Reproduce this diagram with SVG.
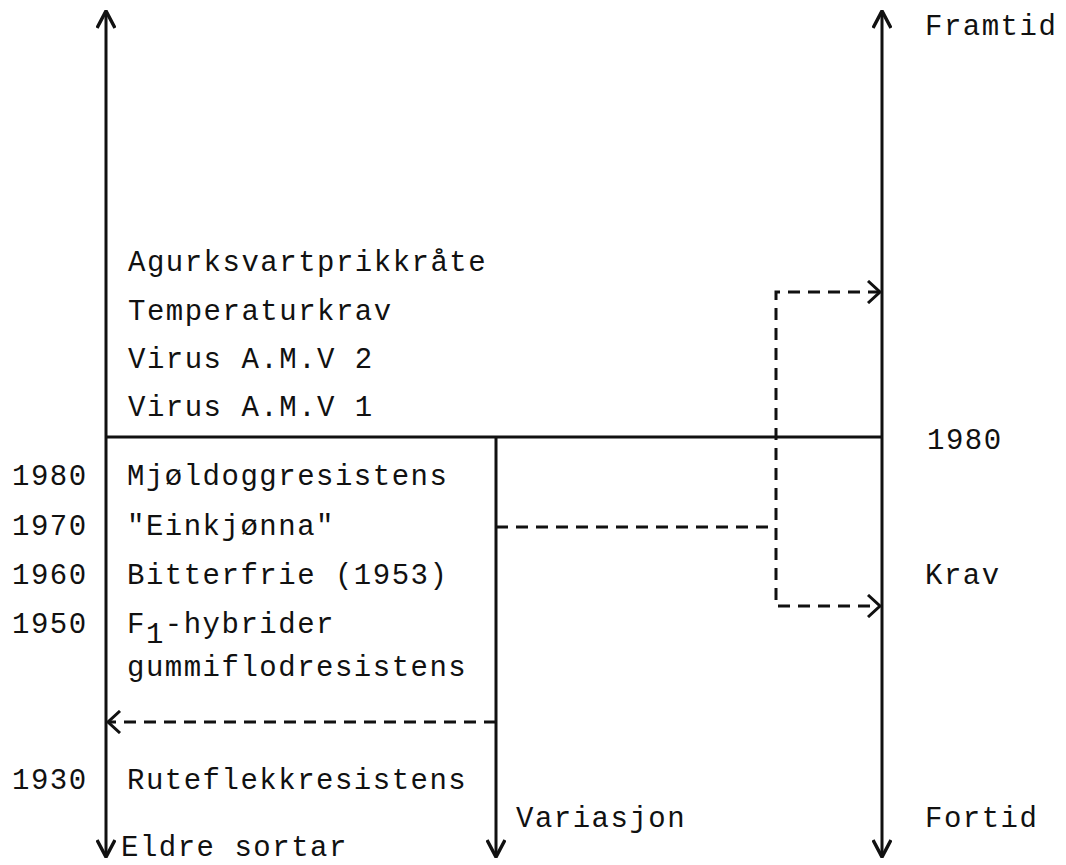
<svg xmlns="http://www.w3.org/2000/svg" width="1066" height="865" viewBox="0 0 1066 865">
<style>
text{font-family:"Liberation Mono","Courier New",monospace;font-size:29px;letter-spacing:1.5px;fill:#111}
.solid{stroke:#111;stroke-width:3;fill:none}
.dash{stroke:#111;stroke-width:3;fill:none;stroke-dasharray:12 8}
</style>
<defs>
<marker id="arr" viewBox="0 0 20 20" refX="19" refY="10" markerWidth="20" markerHeight="20" markerUnits="userSpaceOnUse" orient="auto-start-reverse">
<path d="M2,1 L19,10 L2,19" fill="none" stroke="#111" stroke-width="3.5"/>
</marker>
<marker id="darr" viewBox="0 0 20 24" refX="15" refY="12" markerWidth="20" markerHeight="24" markerUnits="userSpaceOnUse" orient="auto-start-reverse">
<path d="M3,1 L15,12 L3,23" fill="none" stroke="#111" stroke-width="3"/>
</marker>
</defs>
<rect width="1066" height="865" fill="#fff"/>
<g id="connectors">
<line class="solid" x1="106" y1="11" x2="106" y2="857" marker-start="url(#arr)" marker-end="url(#arr)"/>
<line class="solid" x1="882" y1="11" x2="882" y2="857" marker-start="url(#arr)" marker-end="url(#arr)"/>
<line class="solid" x1="496" y1="437" x2="496" y2="857" marker-end="url(#arr)"/>
<line class="solid" x1="106" y1="437" x2="882" y2="437"/>
<path class="dash" d="M880,292 H776 V606 H880" marker-start="url(#darr)" marker-end="url(#darr)"/>
<path class="dash" d="M496,527 H776"/>
<path class="dash" d="M496,722 H108" marker-end="url(#darr)"/>
</g>
<g id="labels-right">
<text x="925" y="35">Framtid</text>
<text x="927" y="449">1980</text>
<text x="925" y="584">Krav</text>
<text x="925" y="827">Fortid</text>
<text x="516" y="827">Variasjon</text>
</g>
<g id="future-demands">
<text x="128" y="271">Agurksvartprikkråte</text>
<text x="128" y="320">Temperaturkrav</text>
<text x="128" y="368">Virus A.M.V 2</text>
<text x="128" y="416">Virus A.M.V 1</text>
</g>
<g id="years">
<text x="12" y="485">1980</text>
<text x="12" y="535">1970</text>
<text x="12" y="584">1960</text>
<text x="12" y="633">1950</text>
<text x="12" y="789">1930</text>
</g>
<g id="traits">
<text x="127" y="485">Mjøldoggresistens</text>
<text x="127" y="535">"Einkjønna"</text>
<text x="127" y="584">Bitterfrie (1953)</text>
<text x="127" y="633">F<tspan dy="10">1</tspan><tspan dy="-10">-hybrider</tspan></text>
<text x="127" y="676">gummiflodresistens</text>
<text x="127" y="789">Ruteflekkresistens</text>
<text x="121" y="856">Eldre sortar</text>
</g>
</svg>
